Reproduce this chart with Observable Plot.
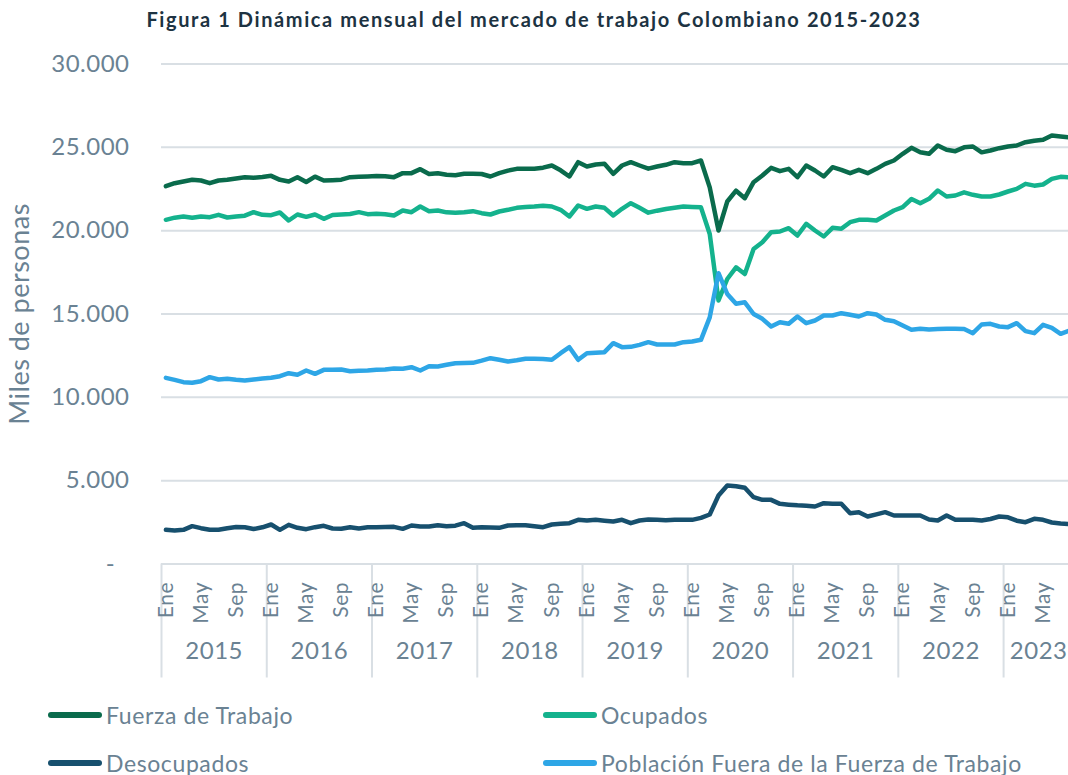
<!DOCTYPE html>
<html>
<head>
<meta charset="utf-8">
<script src="https://cdn.jsdelivr.net/npm/d3@7"></script>
<script src="https://cdn.jsdelivr.net/npm/@observablehq/plot@0.6"></script>
<style>
  html, body { margin: 0; padding: 0; background: #fff; overflow: hidden; width: 1068px; height: 775px; }
  body { position: relative; font-family: Lato, "Open Sans", sans-serif; }
  #title { position: absolute; left: 0; top: 7px; width: 1068px; text-align: center; font-weight: 700; font-size: 20px; color: #1d3342; letter-spacing: 1.6px; }
  #chart { position: absolute; left: 0; top: 40px; }
  .leg { position: absolute; display: flex; align-items: center; font-size: 23px; letter-spacing: 0.6px; color: #6a8293; white-space: nowrap; }
  .sw { display: inline-block; width: 54px; height: 6px; border-radius: 3px; margin-right: 4px; }
  #chart svg text { letter-spacing: 0.5px; }
</style>
</head>
<body>
<div id="title">Figura 1 Dinámica mensual del mercado de trabajo Colombiano 2015-2023</div>
<div id="chart"></div>
<div id="legend"></div>
<script>
// ---- Data (miles de personas), mensual Ene 2015 - Ago 2023 ----
const years = [2015, 2016, 2017, 2018, 2019, 2020, 2021, 2022, 2023];
const monthNames = ["Ene","Feb","Mar","Abr","May","Jun","Jul","Ago","Sep","Oct","Nov","Dic"];
const shownMonths = ["Ene", "May", "Sep"];
const yTicks = [0, 5000, 10000, 15000, 20000, 25000, 30000];

const fuerzaTrabajo = [
  22670,22850,22950,23050,23010,22850,23010,23050,23130,23200,23180,23220,
  23290,23050,22950,23210,22920,23240,23010,23030,23060,23210,23230,23250,
  23280,23270,23210,23450,23450,23690,23400,23450,23350,23330,23410,23410,
  23400,23250,23450,23600,23710,23710,23720,23780,23910,23620,23250,24110,
  23850,23970,24010,23410,23910,24110,23910,23720,23850,23950,24110,24050,
  24050,24210,22600,20010,21750,22400,21950,22910,23310,23770,23570,23710,
  23210,23910,23610,23250,23810,23650,23450,23650,23450,23710,24010,24210,
  24610,24970,24710,24610,25110,24850,24770,25000,25050,24700,24810,24950,
  25050,25110,25310,25400,25450,25710,25650,25600
];
const ocupados = [
  20650,20780,20850,20770,20850,20810,20950,20790,20850,20900,21110,20950,
  20930,21090,20610,20970,20830,20970,20710,20940,20970,21000,21110,20990,
  21010,20980,20910,21210,21110,21450,21170,21210,21100,21070,21110,21170,
  21050,20970,21150,21250,21370,21420,21450,21500,21450,21250,20850,21510,
  21310,21450,21370,20910,21310,21650,21370,21080,21200,21300,21370,21450,
  21420,21400,19800,15810,17100,17800,17400,18900,19310,19910,19950,20150,
  19710,20410,20010,19650,20170,20110,20510,20650,20650,20610,20910,21210,
  21410,21900,21650,21910,22410,22050,22110,22300,22150,22050,22050,22170,
  22350,22510,22810,22700,22770,23110,23230,23200
];
const desocupados = [
  2050,2010,2050,2270,2150,2050,2050,2150,2220,2200,2100,2200,
  2370,2050,2350,2170,2090,2210,2290,2130,2110,2210,2130,2200,
  2210,2220,2230,2110,2310,2250,2250,2330,2270,2300,2450,2170,
  2210,2190,2170,2310,2320,2330,2270,2210,2370,2420,2450,2650,
  2610,2650,2600,2550,2650,2450,2610,2670,2650,2630,2650,2650,
  2650,2770,2970,4110,4710,4670,4570,4010,3850,3850,3610,3560,
  3520,3500,3450,3650,3620,3610,3050,3110,2850,2980,3110,2910,
  2910,2910,2910,2670,2610,2910,2650,2650,2650,2610,2700,2850,
  2800,2600,2510,2710,2650,2490,2430,2400
];
const fueraFuerza = [
  11170,11050,10910,10870,10970,11210,11070,11110,11050,11010,11070,11130,
  11170,11270,11450,11350,11610,11410,11650,11660,11670,11570,11590,11610,
  11660,11670,11730,11710,11810,11610,11870,11850,11950,12050,12060,12070,
  12200,12350,12250,12150,12220,12310,12310,12300,12250,12650,13010,12250,
  12650,12680,12710,13250,13010,13030,13150,13310,13170,13170,13170,13310,
  13350,13450,14800,17450,16200,15610,15700,15000,14710,14250,14510,14410,
  14850,14450,14610,14910,14910,15050,14950,14850,15050,14970,14650,14570,
  14310,14050,14110,14070,14100,14110,14110,14100,13850,14370,14410,14250,
  14210,14450,13970,13850,14350,14170,13810,14000
];

const seriesNames = ["Fuerza de Trabajo", "Ocupados", "Desocupados", "Población Fuera de la Fuerza de Trabajo"];
const seriesColors = ["#0a6b4c", "#14b28d", "#17506e", "#2ea6e6"];
const seriesValues = [fuerzaTrabajo, ocupados, desocupados, fueraFuerza];

// ---- Derived helpers ----
const n = fuerzaTrabajo.length;
const idx = d3.range(n);
const monthTicks = idx.filter(i => shownMonths.includes(monthNames[i % 12]));
const yearBounds = years.map((y, k) => k * 12 - 0.5);
const yearMid = years.map((y, k) => {
  const cnt = Math.min(12, n - k * 12);
  return { year: y, mid: k * 12 + (cnt - 1) / 2 };
});
const fmt = d => d === 0 ? "-\u2007" : d3.format(",")(d).replace(/,/g, ".");
const textColor = "#6a8293";
const gridColor = "#d9dfe4";

const chart = Plot.plot({
  width: 1068,
  height: 660,
  marginLeft: 161,
  marginRight: 0,
  marginTop: 23.5,
  marginBottom: 136.5,
  style: { fontFamily: "Lato, 'Open Sans', sans-serif", color: textColor, background: "white", overflow: "hidden" },
  x: { type: "linear", domain: [-0.5, 102.9], axis: null },
  y: { domain: [0, 30000], axis: null },
  marks: [
    Plot.ruleY(yTicks, { stroke: gridColor, strokeWidth: 2 }),
    Plot.axisY({ ticks: yTicks, tickFormat: fmt, tickSize: 0, tickPadding: 32, fontSize: 24, label: null, fill: textColor }),
    Plot.text(["Miles de personas"], { frameAnchor: "left", textAnchor: "middle", dx: -141, rotate: -90, fontSize: 27, fill: textColor }),
    Plot.axisX({ ticks: yearBounds, tickSize: 114, tickFormat: () => "", stroke: gridColor, strokeWidth: 2, label: null }),
    Plot.axisX({ ticks: monthTicks, tickFormat: i => monthNames[i % 12], tickRotate: -90, tickSize: 0, tickPadding: 18, fontSize: 21, fill: textColor, label: null }),
    Plot.text(yearMid, { x: "mid", frameAnchor: "bottom", dy: 94.5, text: d => String(d.year), fontSize: 24, fill: textColor }),
    ...seriesValues.map((vals, s) =>
      Plot.lineY(vals, { x: (d, i) => i, y: d => d, stroke: seriesColors[s], strokeWidth: 4.5, strokeLinejoin: "round", strokeLinecap: "round", clip: true })
    )
  ]
});
document.getElementById("chart").appendChild(chart);

// ---- Legend ----
const legendPos = [[48, 715], [543, 715], [48, 763], [543, 763]];
const legend = document.getElementById("legend");
seriesNames.forEach((name, s) => {
  const el = document.createElement("div");
  el.className = "leg";
  el.style.left = legendPos[s][0] + "px";
  el.style.top = (legendPos[s][1] - 14) + "px";
  el.style.height = "28px";
  const sw = document.createElement("span");
  sw.className = "sw";
  sw.style.background = seriesColors[s];
  el.appendChild(sw);
  el.appendChild(document.createTextNode(name));
  legend.appendChild(el);
});
</script>
</body>
</html>
